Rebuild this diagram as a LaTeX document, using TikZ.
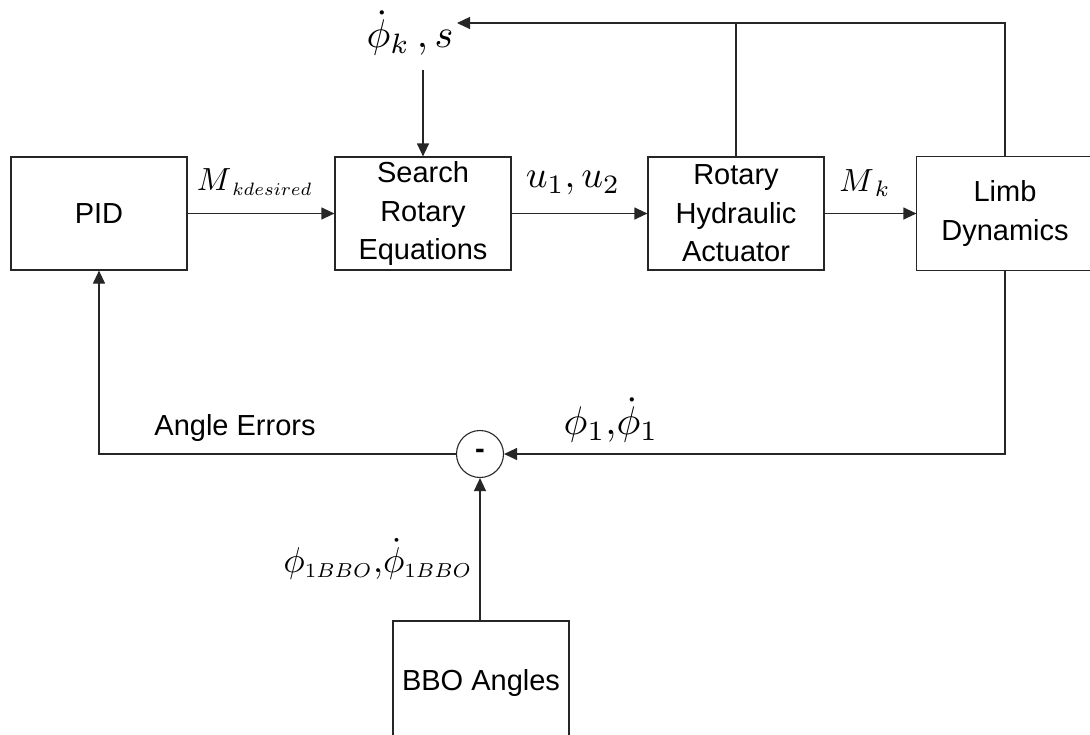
\documentclass[tikz,border=0pt]{standalone}
\usepackage[no-math]{fontspec}
\setmainfont{Liberation Sans}
\usetikzlibrary{arrows.meta}
\newcommand{\ssub}[1]{\scalebox{0.8}{$\scriptstyle #1$}}
\begin{document}
\begin{tikzpicture}[x=1pt,y=-1pt,
  blk/.style={draw=black!85, line width=1.2pt, minimum width=176pt, minimum height=113pt,
    align=center, inner sep=0pt, font=\fontsize{29}{38.5}\selectfont},
  conn/.style={draw=black!85, line width=1.2pt},
  arr/.style={conn, -{Triangle[length=13pt,width=12pt]}},
  sumnode/.style={draw=black!85, line width=1.1pt, circle, minimum size=47pt, inner sep=0pt,
    font=\fontsize{29}{34}\selectfont\bfseries},
  txt/.style={inner sep=0pt, font=\fontsize{29}{34}\selectfont},
  mlab/.style={inner sep=0pt}]
\useasboundingbox (0,0) rectangle (1090,734);
% blocks
\node[blk] (pid) at (99,213.5) {PID};
\node[blk] (sre) at (423,213.5) {Search\\Rotary\\Equations};
\node[blk] (rha) at (736,213.5) {Rotary\\Hydraulic\\Actuator};
\node[blk, draw=none] (ld) at (1005,213.5) {Limb\\Dynamics};
\draw[conn] (ld.north west) rectangle (ld.south east -| 1120,0);
\node[blk, minimum height=127pt] (bbo) at (481,684.5) {\raisebox{10pt}{BBO Angles}};
\node[sumnode] (sum) at (480,454) {-};
% coordinates
\coordinate (tr) at (1005,23);
\coordinate (tl) at (457,23);
\coordinate (ktop) at (423,70);
\coordinate (br) at (1005,454);
% connectors
\draw[arr] (pid) -- (sre);
\draw[arr] (sre) -- (rha);
\draw[arr] (rha) -- (ld);
\draw[arr] (ld.north) -- (tr) -- (tl);
\draw[conn] (rha.north) -- (rha.north |- tr);
\draw[arr] (ktop) -- (sre.north);
\draw[arr] (ld.south) -- (br) -- (sum.east);
\draw[arr] (sum.west) -| (pid.south);
\draw[arr] (sum.south |- bbo.north) -- (sum.south);
% labels
\node[mlab] (lmk) at (255,182) {\scalebox{3.2}{$M_{\,\ssub{kdesired}}$}};
\node[mlab] (lu) at (573,183) {\scalebox{3.8}{$u_1{,}\,u_2$}};
\node[mlab] (lmk2) at (865,183) {\scalebox{3.2}{$M_{\,k}$}};
\node[mlab] (lphk) at (410,33) {\scalebox{4.0}{$\dot{\phi}_k\,{,}\,s$}};
\node[mlab] (lph1) at (611,420) {\scalebox{4.0}{$\phi_1{,}\dot{\phi}_1$}};
\node[mlab] (lphb) at (378,559) {\scalebox{3.6}{$\phi_{\ssub{1BBO}}{,}\dot{\phi}_{\ssub{1BBO}}$}};
\node[txt] (lae) at (235,428) {Angle Errors};
\end{tikzpicture}
\end{document}
